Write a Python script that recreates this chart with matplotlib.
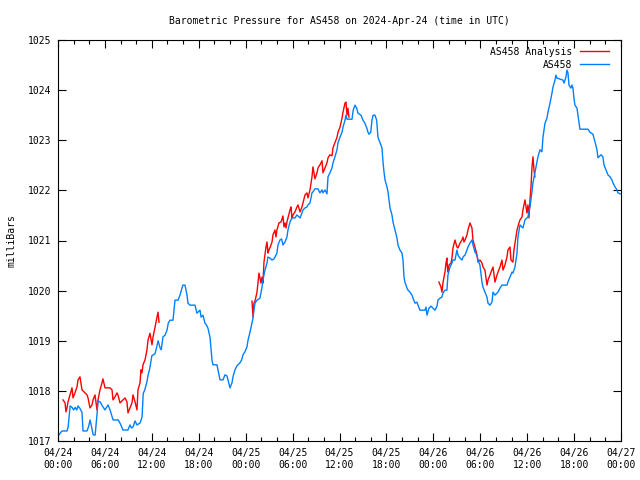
import numpy as np
import matplotlib
matplotlib.use('Agg')
import matplotlib.pyplot as plt

# Hours since 2024-04-24 00:00 UTC, pressure in millibars
station_hours = [
    0.1, 0.5, 1.15, 1.3, 1.55, 1.8, 2.0, 2.2, 2.4, 2.56, 2.8, 3.07, 3.2, 3.7, 3.9,
    4.1, 4.3, 4.5, 4.75, 5.0, 5.12, 5.4, 5.6, 5.8, 6.0, 6.2, 6.4, 6.65, 6.85, 7.05,
    7.7, 7.95, 8.15, 8.3, 8.95, 9.2, 9.4, 9.6, 9.85, 10.1, 10.5, 10.75, 10.9, 11.1,
    11.4, 11.5, 11.75, 12.0, 12.4, 12.6, 12.8, 13.05, 13.2, 13.43, 13.68, 13.94,
    14.1, 14.32, 14.71, 14.96, 15.35, 15.6, 15.85, 15.98, 16.24, 16.5, 16.62, 16.88,
    17.52, 17.77, 17.9, 18.16, 18.3, 18.54, 18.8, 19.0, 19.18, 19.44, 19.69, 19.82,
    20.33, 20.46, 20.72, 21.1, 21.36, 21.6, 21.74, 21.99, 22.25, 22.38, 22.63, 22.89,
    23.27, 23.5, 23.66, 23.91, 24.17, 24.3, 24.55, 24.81, 24.94, 25.06, 25.19, 25.45,
    25.83, 26.09, 26.21, 26.47, 26.73, 26.85, 27.1, 27.37, 27.6, 27.75, 28.0, 28.13,
    28.39, 28.6, 28.77, 29.03, 29.28, 29.41, 29.67, 29.92, 30.31, 30.56, 30.69, 30.95,
    31.2, 31.33, 31.59, 31.84, 31.97, 32.23, 32.48, 32.61, 32.86, 33.25, 33.5, 33.76,
    33.89, 34.14, 34.4, 34.53, 34.78, 35.04, 35.17, 35.42, 35.68, 35.81, 36.06, 36.32,
    36.45, 36.7, 36.83, 36.96, 37.1, 37.6, 37.75, 37.98, 38.2, 38.36, 38.75, 39.0,
    39.25, 39.5, 39.64, 39.77, 40.0, 40.15, 40.3, 40.54, 40.75, 40.92, 41.18, 41.43,
    41.56, 41.69, 41.82, 42.07, 42.2, 42.46, 42.71, 42.84, 43.1, 43.35, 43.48, 43.73,
    43.99, 44.12, 44.25, 44.37, 44.63, 44.76, 45.01, 45.27, 45.4, 45.65, 45.9, 46.04,
    46.29, 46.93, 47.06, 47.19, 47.44, 47.7, 47.95, 48.21, 48.47, 48.59, 48.85, 49.1,
    49.23, 49.49, 49.74, 49.87, 50.13, 50.38, 50.51, 50.77, 51.02, 51.15, 51.41, 51.66,
    51.79, 52.05, 52.3, 52.43, 52.69, 52.94, 53.07, 53.32, 53.58, 53.71, 53.96, 54.22,
    54.35, 54.6, 54.86, 54.99, 55.24, 55.5, 55.63, 55.88, 56.14, 56.27, 56.52, 56.78,
    57.42, 57.54, 57.8, 58.06, 58.18, 58.44, 58.7, 58.82, 59.08, 59.46, 59.72, 59.97,
    60.1, 60.36, 60.61, 60.74, 60.99, 61.25, 61.38, 61.64, 61.89, 62.02, 62.28, 62.53,
    62.66, 62.92, 63.17, 63.3, 63.56, 63.68, 63.81, 64.19, 64.58, 64.71, 64.96, 65.09,
    65.22, 65.35, 65.6, 65.73, 65.86, 65.98, 66.11, 66.37, 66.5, 66.62, 66.75, 67.77,
    68.03, 68.41, 68.67, 68.93, 69.05, 69.18, 69.44, 69.69, 69.82, 70.08, 70.33, 70.59,
    70.84, 70.97, 71.23, 71.48, 71.61, 71.9,
]
station_mbar = [
    1017.12, 1017.2, 1017.2, 1017.28, 1017.7, 1017.67, 1017.62, 1017.67, 1017.62,
    1017.7, 1017.65, 1017.57, 1017.2, 1017.2, 1017.28, 1017.42, 1017.28, 1017.12,
    1017.12, 1017.55, 1017.8, 1017.78, 1017.72, 1017.67, 1017.62, 1017.67, 1017.72,
    1017.62, 1017.52, 1017.42, 1017.42, 1017.35, 1017.28, 1017.22, 1017.22, 1017.32,
    1017.26, 1017.28, 1017.4, 1017.32, 1017.36, 1017.48, 1017.95, 1018.02, 1018.2,
    1018.3, 1018.46, 1018.7, 1018.74, 1018.86, 1019.0, 1018.86, 1018.82, 1019.08,
    1019.11, 1019.21, 1019.35, 1019.41, 1019.41, 1019.81, 1019.81, 1019.91, 1020.05,
    1020.11, 1020.11, 1019.91, 1019.75, 1019.71, 1019.71, 1019.55, 1019.57, 1019.61,
    1019.47, 1019.51, 1019.35, 1019.31, 1019.25, 1019.07, 1018.62, 1018.52, 1018.52,
    1018.42, 1018.22, 1018.22, 1018.32, 1018.3, 1018.22, 1018.06, 1018.16, 1018.28,
    1018.42, 1018.5, 1018.56, 1018.62, 1018.72, 1018.78, 1018.88, 1019.01, 1019.17,
    1019.35, 1019.45, 1019.61, 1019.75, 1019.81, 1019.85, 1020.07, 1020.21, 1020.41,
    1020.55, 1020.67, 1020.65, 1020.61, 1020.63, 1020.67, 1020.75, 1020.91, 1021.01,
    1021.03, 1020.91, 1020.97, 1021.07, 1021.21, 1021.37, 1021.45, 1021.45, 1021.51,
    1021.49, 1021.45, 1021.55, 1021.61, 1021.65, 1021.67, 1021.71, 1021.75, 1021.95,
    1021.97, 1022.03, 1022.03, 1021.95, 1022.01, 1021.95, 1022.01, 1021.93, 1022.27,
    1022.35, 1022.45, 1022.55, 1022.67, 1022.81, 1022.95, 1023.06, 1023.16, 1023.26,
    1023.4, 1023.5, 1023.42, 1023.42, 1023.42, 1023.6, 1023.7, 1023.64, 1023.54,
    1023.5, 1023.4, 1023.34, 1023.24, 1023.16, 1023.12, 1023.16, 1023.4, 1023.5,
    1023.5, 1023.4, 1023.06, 1022.95, 1022.85, 1022.57, 1022.37, 1022.21, 1022.07,
    1021.97, 1021.65, 1021.51, 1021.37, 1021.21, 1021.05, 1020.91, 1020.81, 1020.75,
    1020.61, 1020.27, 1020.17, 1020.05, 1020.01, 1019.97, 1019.91, 1019.85, 1019.75,
    1019.77, 1019.71, 1019.61, 1019.61, 1019.67, 1019.51, 1019.65, 1019.69, 1019.65,
    1019.61, 1019.69, 1019.81, 1019.85, 1019.87, 1019.95, 1020.01, 1020.01, 1020.31,
    1020.47, 1020.55, 1020.61, 1020.61, 1020.81, 1020.71, 1020.65, 1020.61, 1020.67,
    1020.71, 1020.81, 1020.87, 1020.95, 1021.01, 1020.91, 1020.77, 1020.71, 1020.61,
    1020.51, 1020.17, 1020.07, 1019.97, 1019.87, 1019.75, 1019.71, 1019.77, 1019.97,
    1019.91, 1019.95, 1019.97, 1020.05, 1020.11, 1020.11, 1020.17, 1020.27, 1020.37,
    1020.35, 1020.47, 1020.75, 1021.07, 1021.31, 1021.25, 1021.41, 1021.45, 1021.47,
    1021.67, 1021.97, 1022.15, 1022.35, 1022.55, 1022.67, 1022.81, 1022.77, 1023.06,
    1023.34, 1023.44, 1023.56, 1023.74, 1023.94, 1024.06, 1024.2, 1024.3, 1024.24,
    1024.22, 1024.2, 1024.14, 1024.26, 1024.4, 1024.34, 1024.1, 1024.04, 1024.1,
    1024.04, 1023.84, 1023.7, 1023.64, 1023.5, 1023.36, 1023.22, 1023.22, 1023.16,
    1023.12, 1022.97, 1022.81, 1022.65, 1022.67, 1022.71, 1022.67, 1022.51, 1022.41,
    1022.31, 1022.27, 1022.21, 1022.15, 1022.07, 1022.01, 1021.95, 1021.93,
]

# Analysis series, three segments separated by NaN gaps
analysis_hours = [
    0.64, 0.9, 1.02, 1.15, 1.28, 1.53, 1.79, 1.92, 2.17, 2.43, 2.56, 2.81, 3.07, 3.45,
    3.71, 3.84, 4.09, 4.35, 4.48, 4.73, 4.99, 5.12, 5.37, 5.63, 5.75, 6.01, 6.65, 6.91,
    7.03, 7.29, 7.54, 7.67, 7.93, 8.57, 8.82, 8.95, 9.21, 9.46, 9.59, 9.85, 10.1, 10.23,
    10.49, 10.61, 10.74, 10.87, 11.13, 11.38, 11.51, 11.76, 12.02, 12.15, 12.4, 12.66,
    12.79, 12.92,
    np.nan,
    24.81, 24.94, 25.06, 25.19, 25.45, 25.58, 25.7, 25.96, 26.09, 26.21, 26.34, 26.6,
    26.73, 26.85, 26.98, 27.24, 27.37, 27.49, 27.75, 27.88, 28.0, 28.26, 28.52, 28.77,
    28.9, 29.03, 29.16, 29.28, 29.41, 29.67, 29.8, 29.92, 30.05, 30.31, 30.56, 30.69,
    30.95, 31.2, 31.33, 31.59, 31.84, 31.97, 32.23, 32.48, 32.61, 32.86, 33.12, 33.25,
    33.5, 33.76, 33.89, 34.14, 34.4, 34.53, 34.78, 35.04, 35.17, 35.42, 35.68, 35.81,
    36.06, 36.32, 36.45, 36.7, 36.83, 36.96, 37.08, 37.21,
    np.nan,
    48.72, 48.98, 49.1, 49.23, 49.36, 49.49, 49.62, 49.74, 49.8, 49.87, 50.0, 50.26,
    50.38, 50.51, 50.77, 51.02, 51.15, 51.41, 51.66, 51.79, 51.92, 52.05, 52.3, 52.43,
    52.69, 52.94, 53.07, 53.32, 53.58, 53.71, 53.96, 54.22, 54.35, 54.6, 54.86, 54.99,
    55.24, 55.5, 55.63, 55.88, 56.14, 56.27, 56.52, 56.78, 56.91, 57.16, 57.42, 57.54,
    57.8, 57.93, 58.18, 58.31, 58.57, 58.7, 58.95, 59.08, 59.34, 59.46, 59.72, 59.97,
    60.1, 60.23, 60.36, 60.49, 60.61, 60.74, 60.87, 60.99,
]
analysis_mbar = [
    1017.82, 1017.76, 1017.58, 1017.66, 1017.78, 1017.92, 1018.06, 1017.86, 1017.96,
    1018.08, 1018.22, 1018.28, 1018.02, 1017.96, 1017.92, 1017.86, 1017.66, 1017.72,
    1017.82, 1017.92, 1017.62, 1017.82, 1018.02, 1018.16, 1018.24, 1018.06, 1018.06,
    1018.02, 1017.82, 1017.88, 1017.96, 1017.92, 1017.76, 1017.86, 1017.78, 1017.56,
    1017.66, 1017.76, 1017.92, 1017.78, 1017.62, 1018.02, 1018.16, 1018.42, 1018.36,
    1018.52, 1018.62, 1018.82, 1019.01, 1019.15, 1018.92, 1019.07, 1019.27, 1019.47,
    1019.57, 1019.37,
    np.nan,
    1019.79, 1019.47, 1019.75, 1019.79, 1019.97, 1020.17, 1020.35, 1020.15, 1020.27,
    1020.15, 1020.57, 1020.87, 1020.97, 1020.75, 1020.81, 1020.91, 1020.97, 1021.11,
    1021.21, 1021.07, 1021.21, 1021.35, 1021.37, 1021.49, 1021.27, 1021.35, 1021.25,
    1021.37, 1021.45, 1021.61, 1021.67, 1021.45, 1021.51, 1021.57, 1021.67, 1021.71,
    1021.57, 1021.67, 1021.75, 1021.91, 1021.95, 1021.85, 1022.01, 1022.27, 1022.47,
    1022.23, 1022.35, 1022.45, 1022.51, 1022.59, 1022.35, 1022.45, 1022.55, 1022.65,
    1022.71, 1022.69, 1022.85, 1022.95, 1023.06, 1023.16, 1023.26, 1023.44, 1023.56,
    1023.74, 1023.76, 1023.5, 1023.64, 1023.46,
    np.nan,
    1020.17, 1020.07, 1019.97, 1020.15, 1020.27, 1020.37, 1020.55, 1020.65, 1020.47,
    1020.37, 1020.51, 1020.55, 1020.65, 1020.85, 1021.01, 1020.87, 1020.85, 1020.95,
    1021.01, 1021.07, 1020.97, 1021.01, 1021.11, 1021.21, 1021.35, 1021.25, 1021.01,
    1020.87, 1020.71, 1020.57, 1020.61, 1020.55, 1020.47, 1020.41, 1020.11, 1020.21,
    1020.31, 1020.41, 1020.47, 1020.17, 1020.31, 1020.37, 1020.47, 1020.61, 1020.41,
    1020.51, 1020.67, 1020.81, 1020.87, 1020.61, 1020.57, 1020.81, 1021.07, 1021.21,
    1021.35, 1021.41, 1021.47, 1021.61, 1021.81, 1021.55, 1021.71, 1021.45, 1021.81,
    1022.07, 1022.45, 1022.67, 1022.41, 1022.27,
]

tick_hours = [0, 6, 12, 18, 24, 30, 36, 42, 48, 54, 60, 66, 72]
tick_labels = ['04/24\n00:00', '04/24\n06:00', '04/24\n12:00', '04/24\n18:00',
               '04/25\n00:00', '04/25\n06:00', '04/25\n12:00', '04/25\n18:00',
               '04/26\n00:00', '04/26\n06:00', '04/26\n12:00', '04/26\n18:00',
               '04/27\n00:00']

plt.rcParams['font.family'] = 'DejaVu Sans Mono'
plt.rcParams['font.size'] = 7

fig = plt.figure(figsize=(6.4, 4.8), dpi=100)
ax = fig.add_axes([58 / 640, 1 - 441 / 480, 563 / 640, 401 / 480])

ax.plot(analysis_hours, analysis_mbar, color='#ff0000', lw=1, label='AS458 Analysis')
ax.plot(station_hours, station_mbar, color='#0080ff', lw=1, label='AS458')

ax.set_xlim(0, 72)
ax.set_ylim(1017, 1025)
ax.set_xticks(tick_hours)
ax.set_xticklabels(tick_labels)
ax.set_xticks(np.arange(0, 73, 2), minor=True)
ax.set_yticks(np.arange(1017, 1026, 1))
ax.tick_params(which='both', direction='in', top=True, right=True,
               width=0.8, labelsize=7)
ax.tick_params(which='major', length=6, pad=5)
ax.tick_params(which='minor', length=3)
for s in ax.spines.values():
    s.set_linewidth(0.8)

ax.set_ylabel('milliBars', fontsize=7, labelpad=8)
ax.set_title('Barometric Pressure for AS458 on 2024-Apr-24 (time in UTC)',
             fontsize=7, pad=11.5)

leg = ax.legend(loc='upper right', bbox_to_anchor=(0.986, 0.993), frameon=False,
                markerfirst=False, handlelength=3.0, handletextpad=0.8,
                labelspacing=0.3, borderaxespad=0.0, fontsize=7)

fig.savefig('out.png', dpi=100)
